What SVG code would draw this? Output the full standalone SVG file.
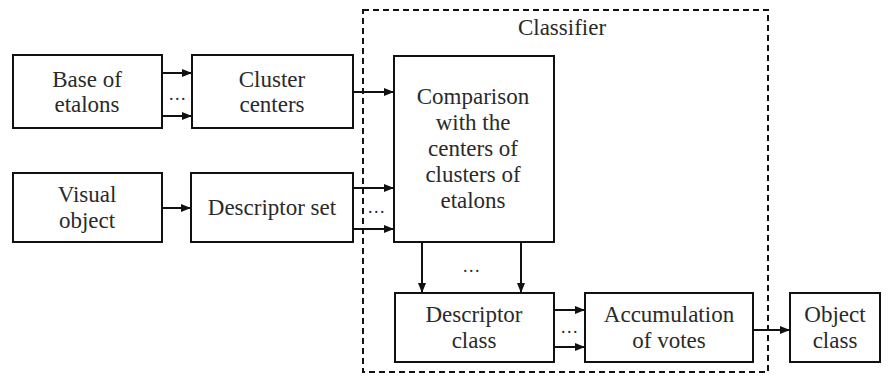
<svg xmlns="http://www.w3.org/2000/svg" width="890" height="384" viewBox="0 0 890 384">
<style>
.box{fill:#fff;stroke:#111;stroke-width:2}
.t{fill:#2a2a2a}
.ln{stroke:#111;stroke-width:2;fill:none}
</style>
<defs>
<marker id="ah" markerWidth="10" markerHeight="8" refX="10" refY="4" orient="auto" markerUnits="userSpaceOnUse">
<path d="M0,0 L10,4 L0,8 Z" fill="#111"/>
</marker>
</defs>
<rect width="890" height="384" fill="#fff"/>
<g id="classifier">
<rect x="363" y="10" width="405" height="362" fill="none" stroke="#111" stroke-width="2" stroke-dasharray="6,4"/>
<text class="t" x="562" y="35" font-family="Liberation Serif" font-size="23" text-anchor="middle">Classifier</text>
</g>
<g id="base">
<rect class="box" x="13" y="55" width="149" height="73"/>
<text class="t" x="87" y="87" font-family="Liberation Serif" font-size="23" text-anchor="middle">Base of</text>
<text class="t" x="87" y="112" font-family="Liberation Serif" font-size="23" text-anchor="middle">etalons</text>
</g>
<g id="cluster">
<rect class="box" x="192" y="55" width="161" height="73"/>
<text class="t" x="272" y="87" font-family="Liberation Serif" font-size="23" text-anchor="middle">Cluster</text>
<text class="t" x="272" y="112" font-family="Liberation Serif" font-size="23" text-anchor="middle">centers</text>
</g>
<g id="visual">
<rect class="box" x="13" y="173" width="149" height="69"/>
<text class="t" x="87" y="202" font-family="Liberation Serif" font-size="23" text-anchor="middle">Visual</text>
<text class="t" x="87" y="228" font-family="Liberation Serif" font-size="23" text-anchor="middle">object</text>
</g>
<g id="descset">
<rect class="box" x="191" y="173" width="162" height="69"/>
<text class="t" x="272" y="215" font-family="Liberation Serif" font-size="23" text-anchor="middle">Descriptor set</text>
</g>
<g id="comparison">
<rect class="box" x="394" y="56" width="160" height="186"/>
<text class="t" x="473" y="104" font-family="Liberation Serif" font-size="23" text-anchor="middle">Comparison</text>
<text class="t" x="473" y="130" font-family="Liberation Serif" font-size="23" text-anchor="middle">with the</text>
<text class="t" x="473" y="156" font-family="Liberation Serif" font-size="23" text-anchor="middle">centers of</text>
<text class="t" x="473" y="182" font-family="Liberation Serif" font-size="23" text-anchor="middle">clusters of</text>
<text class="t" x="473" y="208" font-family="Liberation Serif" font-size="23" text-anchor="middle">etalons</text>
</g>
<g id="descclass">
<rect class="box" x="395" y="293" width="159" height="69"/>
<text class="t" x="474" y="322" font-family="Liberation Serif" font-size="23" text-anchor="middle">Descriptor</text>
<text class="t" x="474" y="348" font-family="Liberation Serif" font-size="23" text-anchor="middle">class</text>
</g>
<g id="accum">
<rect class="box" x="585" y="293" width="168" height="69"/>
<text class="t" x="669" y="322" font-family="Liberation Serif" font-size="23" text-anchor="middle">Accumulation</text>
<text class="t" x="669" y="348" font-family="Liberation Serif" font-size="23" text-anchor="middle">of votes</text>
</g>
<g id="objclass">
<rect class="box" x="790" y="293" width="90" height="69"/>
<text class="t" x="835" y="322" font-family="Liberation Serif" font-size="23" text-anchor="middle">Object</text>
<text class="t" x="835" y="348" font-family="Liberation Serif" font-size="23" text-anchor="middle">class</text>
</g>
<g id="connectors">
<line class="ln" x1="162" y1="73" x2="192" y2="73" marker-end="url(#ah)"/>
<line class="ln" x1="162" y1="116" x2="192" y2="116" marker-end="url(#ah)"/>
<text class="t" x="178" y="100" font-family="Liberation Serif" font-size="18" letter-spacing="1.5" text-anchor="middle">...</text>
<line class="ln" x1="353" y1="92" x2="394" y2="92" marker-end="url(#ah)"/>
<line class="ln" x1="162" y1="208" x2="191" y2="208" marker-end="url(#ah)"/>
<line class="ln" x1="353" y1="188" x2="394" y2="188" marker-end="url(#ah)"/>
<line class="ln" x1="353" y1="229" x2="394" y2="229" marker-end="url(#ah)"/>
<text class="t" x="377" y="213" font-family="Liberation Serif" font-size="18" letter-spacing="1.5" text-anchor="middle">...</text>
<line class="ln" x1="422" y1="242" x2="422" y2="293" marker-end="url(#ah)"/>
<line class="ln" x1="521" y1="242" x2="521" y2="293" marker-end="url(#ah)"/>
<text class="t" x="472" y="272" font-family="Liberation Serif" font-size="18" letter-spacing="1.5" text-anchor="middle">...</text>
<line class="ln" x1="554" y1="310" x2="585" y2="310" marker-end="url(#ah)"/>
<line class="ln" x1="554" y1="347" x2="585" y2="347" marker-end="url(#ah)"/>
<text class="t" x="570" y="333" font-family="Liberation Serif" font-size="18" letter-spacing="1.5" text-anchor="middle">...</text>
<line class="ln" x1="753" y1="330" x2="790" y2="330" marker-end="url(#ah)"/>
</g>
</svg>
